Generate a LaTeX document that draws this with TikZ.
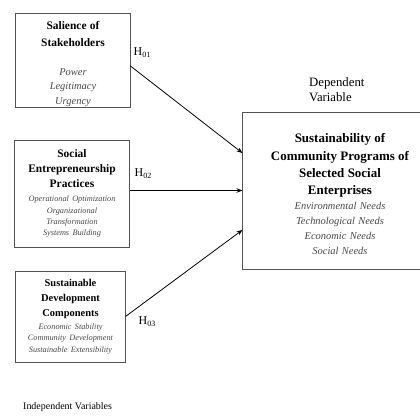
\documentclass[tikz,border=0pt]{standalone}
\usepackage{fontspec}
\setmainfont{Liberation Serif}
\usetikzlibrary{positioning, arrows.meta}

\newcommand{\boxhead}[2]{\bfseries\fontsize{#1}{#2}\selectfont}
\newcommand{\boxitem}[2]{\itshape\color{black!72}\fontsize{#1}{#2}\selectfont}

\begin{document}
\begin{tikzpicture}[
    x=1bp, y=-1bp,
    box/.style={draw=black!68, line width=1bp, align=center, inner sep=0pt}, % Style for variable boxes
    hyp/.style={font=\fontsize{12}{14}\selectfont, inner sep=0pt}, % Style for hypothesis labels
    tag/.style={font=\fontsize{12.8}{15.5}\selectfont, inner sep=0pt, align=left}, % Style for group labels
    link/.style={line width=0.8bp, -{Stealth[length=6bp, width=4.5bp]}}
  ]
    \useasboundingbox (0,0) rectangle (420,416);

    % Define nodes
    \node (S) [box, minimum width=114bp, minimum height=94bp, text width=112bp] at (73,60)
      {{\boxhead{11.5}{16.5}\rule{0pt}{16bp}Salience of\\ Stakeholders\par}\vspace{14.5bp}
       {\boxitem{10.5}{14.5}Power\\ Legitimacy\\ Urgency\par}};
    \node (P) [box, minimum width=114bp, minimum height=107bp, text width=112bp] at (72,193.5)
      {{\boxhead{11.5}{15}Social\\ Entrepreneurship\\ Practices\par}\vspace{3bp}
       {\boxitem{8.3}{11.5}Operational Optimization\\ Organizational\\ Transformation\\ Systems Building\par}};
    \node (C) [box, minimum width=109bp, minimum height=91bp, text width=107bp] at (70.5,316.5)
      {{\boxhead{10.5}{15}Sustainable\\ Development\\ Components\par}\vspace{1.5bp}
       {\boxitem{8.3}{11.5}Economic Stability\\ Community Development\\ Sustainable Extensibility\par}};
    \node (T) [box, minimum width=194bp, minimum height=157bp, text width=190bp] at (340,190.5)
      {{\boxhead{13}{17.5}\rule{0pt}{16.5bp}Sustainability of\\ Community Programs of\\ Selected Social\\ Enterprises\par}
       {\boxitem{10.5}{15}Environmental Needs\\ Technological Needs\\ Economic Needs\\ Social Needs\par}};

    \node (H1) [hyp, right=3bp of S.east, yshift=7bp, anchor=west]   {H\textsubscript{01}};
    \node (H2) [hyp, right=5bp of P.east, yshift=20bp, anchor=west] {H\textsubscript{02}};
    \node (H3) [hyp, right=13bp of C.east, yshift=-5bp, anchor=west] {H\textsubscript{03}};

    \node (DV) [tag, anchor=north west] at (309,77) {Dependent\\ Variable};
    \node (IV) [tag, font=\fontsize{10}{12}\selectfont, anchor=west] at (23,407) {Independent Variables};

    % Draw arrows
    \draw[link] (S.-6) -- (T.159);
    \draw[link] (P.east |- T.west) -- (T.west);
    \draw[link] (C.east) -- (T.202);
\end{tikzpicture}
\end{document}
